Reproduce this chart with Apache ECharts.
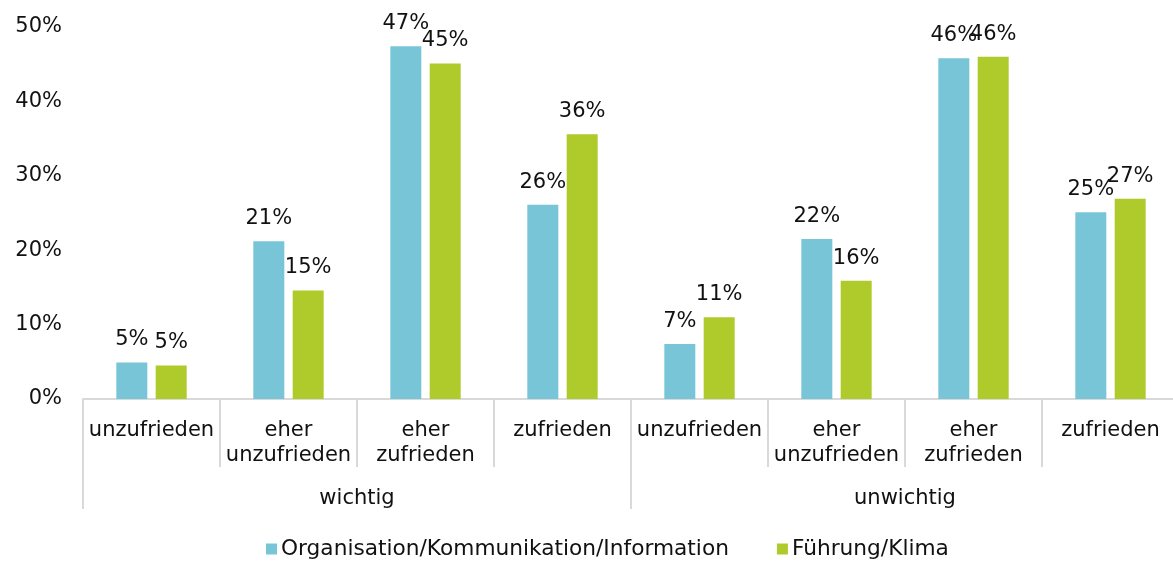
<!DOCTYPE html>
<html>
<head>
<meta charset="utf-8">
<script src="https://cdn.jsdelivr.net/npm/echarts@6/dist/echarts.min.js"></script>
<style>
html,body{margin:0;padding:0;background:#fff;}
#chart{width:1173px;height:561px;}
</style>
</head>
<body>
<div id="chart"></div>
<script>
const categories = ['unzufrieden', 'eher\nunzufrieden', 'eher\nzufrieden', 'zufrieden',
                    'unzufrieden', 'eher\nunzufrieden', 'eher\nzufrieden', 'zufrieden'];
const groups = ['wichtig', 'unwichtig'];
const seriesNames = ['Organisation/Kommunikation/Information', 'Führung/Klima'];
const orgValues = [4.9, 21.2, 47.4, 26.1, 7.4, 21.5, 45.8, 25.1];
const fuehrungValues = [4.5, 14.6, 45.1, 35.6, 11.0, 15.9, 46.0, 26.9];
const yTicks = [0, 10, 20, 30, 40, 50];

const FONT = 'DejaVu Sans';
const TXT = '#111';
const AX = '#d9d9d9';

const chart = echarts.init(document.getElementById('chart'));
const labelCfg = {
  show: true, position: 'top', distance: 12,
  fontFamily: FONT, fontSize: 21, color: TXT,
  formatter: p => Math.round(p.value) + '%'
};
chart.setOption({
  animation: false,
  backgroundColor: '#fff',
  grid: { left: 83, top: 27, width: 1096, height: 372, containLabel: false, outerBoundsMode: 'none' },
  legend: {
    top: 533, left: 261,
    itemWidth: 11, itemHeight: 11, itemGap: 48,
    icon: 'rect',
    textStyle: { fontFamily: FONT, fontSize: 21.7, color: TXT, padding: [0, 0, 0, -1] },
    data: seriesNames
  },
  xAxis: [
    {
      type: 'category', data: categories, position: 'bottom',
      axisLine: { show: true, lineStyle: { color: AX, width: 2 } },
      axisTick: { show: true, interval: 0, length: 68, lineStyle: { color: AX, width: 2 } },
      axisLabel: { interval: 0, margin: 19, fontFamily: FONT, fontSize: 21, color: TXT, lineHeight: 25, align: 'center' }
    },
    {
      type: 'category', data: groups, position: 'bottom',
      axisLine: { show: false },
      axisTick: { show: true, interval: 0, length: 110, lineStyle: { color: AX, width: 2 } },
      axisLabel: { interval: 0, margin: 87, fontFamily: FONT, fontSize: 21, color: TXT, lineHeight: 25 }
    }
  ],
  yAxis: {
    type: 'value', min: yTicks[0], max: yTicks[yTicks.length - 1], interval: 10,
    axisLine: { show: false }, axisTick: { show: false }, splitLine: { show: false },
    axisLabel: { margin: 21, fontFamily: FONT, fontSize: 21, color: TXT, formatter: v => v + '%' }
  },
  series: [
    { name: seriesNames[0], type: 'bar', data: orgValues, barWidth: 31, barGap: '27%',
      itemStyle: { color: '#78c5d8' }, label: labelCfg },
    { name: seriesNames[1], type: 'bar', data: fuehrungValues, barWidth: 31, barGap: '27%',
      itemStyle: { color: '#afca2b' }, label: labelCfg }
  ]
});
</script>
</body>
</html>
